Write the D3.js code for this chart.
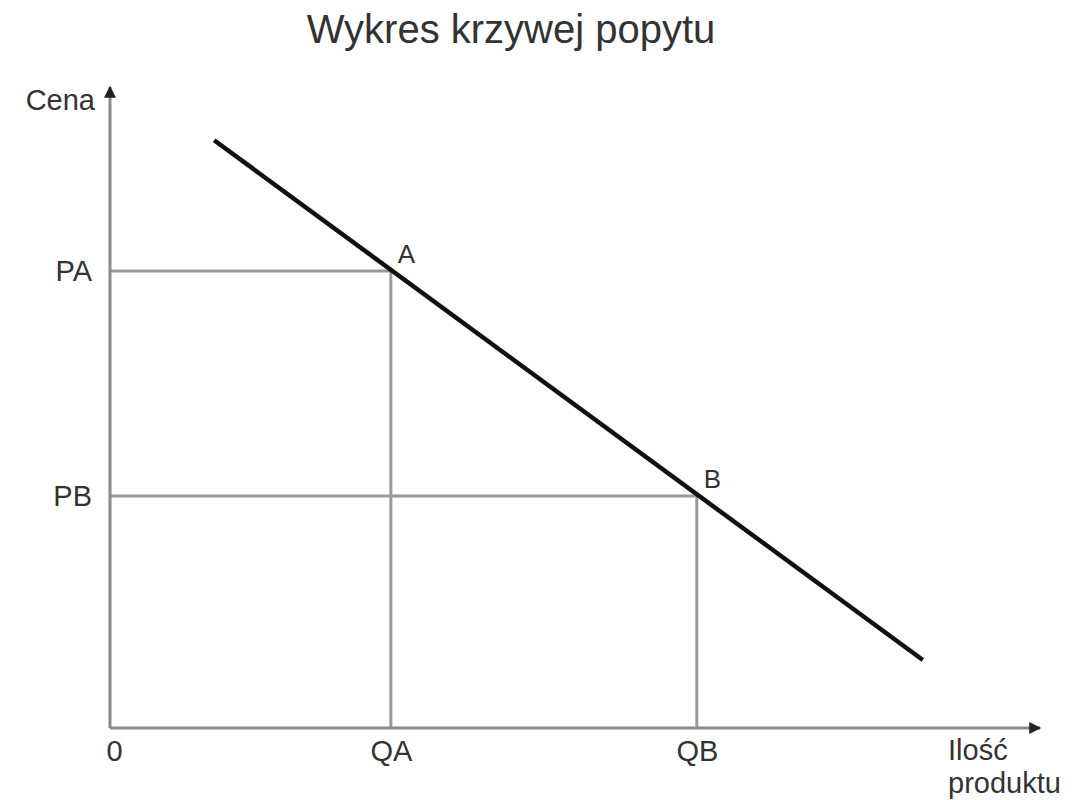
<!DOCTYPE html>
<html>
<head>
  <meta charset="UTF-8">
  <style>
    body {
      margin: 0;
      padding: 0;
      background: #ffffff;
      font-family: "Liberation Sans", Arial, sans-serif;
    }
    svg {
      display: block;
    }
    .axis path, .axis line {
      stroke: none;
    }
    .axis text {
      font-family: "Liberation Sans", Arial, sans-serif;
      fill: #333;
    }
  </style>
</head>
<body>
<svg id="chart"></svg>
<script src="https://d3js.org/d3.v7.min.js"></script>
<script>
// dane (jednostki umowne 0-100)
const demandCurve = [
  { q: 11.2, p: 91.7 },
  { q: 87.4, p: 10.6 }
];
const pointNames = ["A", "B"];
const pointQ = [30.2, 63.1];
const pointP = [71.3, 36.2];
const xTickValues = [0, 30.2, 63.1];
const xTickLabels = ["0", "QA", "QB"];
const yTickValues = [71.3, 36.2];
const yTickLabels = ["PA", "PB"];
const title = "Wykres krzywej popytu";
const yTitle = "Cena";
const xTitle = ["Ilość", "produktu"];

let width = 1076, height = 800;
let svg = d3.select("#chart").attr("width", width).attr("height", height);

let x = d3.scaleLinear().domain([0, 100]).range([110, 1040]);
let y = d3.scaleLinear().domain([0, 100]).range([728, 87]);

let points = pointNames.map((n, i) => ({ name: n, q: pointQ[i], p: pointP[i] }));

// strzałki osi
let defs = svg.append("defs");
defs.append("marker")
    .attr("id", "arrow")
    .attr("viewBox", "0 0 10 10")
    .attr("refX", 9)
    .attr("refY", 5)
    .attr("markerWidth", 5)
    .attr("markerHeight", 4)
    .attr("markerUnits", "strokeWidth")
    .attr("orient", "auto")
    .append("path")
    .attr("d", "M0,0 L10,5 L0,10 Z")
    .attr("fill", "#222");

// tytuł
svg.append("text")
    .attr("x", 511)
    .attr("y", 43)
    .attr("text-anchor", "middle")
    .attr("font-size", 40)
    .attr("fill", "#333")
    .text(title);

// linie pomocnicze do A i B
let guides = svg.append("g").attr("stroke", "#999").attr("stroke-width", 3);
guides.selectAll("line.h")
    .data(points)
    .enter()
    .append("line")
    .attr("class", "h")
    .attr("x1", x(0)).attr("x2", d => x(d.q))
    .attr("y1", d => y(d.p)).attr("y2", d => y(d.p));
guides.selectAll("line.v")
    .data(points)
    .enter()
    .append("line")
    .attr("class", "v")
    .attr("x1", d => x(d.q)).attr("x2", d => x(d.q))
    .attr("y1", d => y(d.p)).attr("y2", y(0));

// osie
svg.append("line")
    .attr("x1", x(0)).attr("y1", y(0))
    .attr("x2", x(100)).attr("y2", y(0))
    .attr("stroke", "#8a8a8a").attr("stroke-width", 3)
    .attr("marker-end", "url(#arrow)");
svg.append("line")
    .attr("x1", x(0)).attr("y1", y(0))
    .attr("x2", x(0)).attr("y2", y(100))
    .attr("stroke", "#8a8a8a").attr("stroke-width", 3)
    .attr("marker-end", "url(#arrow)");

// etykiety osi
let xAxis = d3.axisBottom(x)
    .tickValues(xTickValues)
    .tickFormat((d, i) => xTickLabels[i])
    .tickSize(0)
    .tickPadding(12);
svg.append("g")
    .attr("class", "axis")
    .attr("transform", `translate(0,${y(0)})`)
    .call(xAxis)
    .selectAll("text")
    .attr("font-size", 29)
    .attr("dx", (d, i) => i === 0 ? 4 : 0);

let yAxis = d3.axisLeft(y)
    .tickValues(yTickValues)
    .tickFormat((d, i) => yTickLabels[i])
    .tickSize(0)
    .tickPadding(18);
svg.append("g")
    .attr("class", "axis")
    .attr("transform", `translate(${x(0)},0)`)
    .call(yAxis)
    .selectAll("text")
    .attr("font-size", 29)
    .attr("dy", "0.33em");

// tytuły osi
svg.append("text")
    .attr("x", 95)
    .attr("y", 110)
    .attr("text-anchor", "end")
    .attr("font-size", 29)
    .attr("fill", "#333")
    .text(yTitle);

svg.append("text")
    .attr("x", 948)
    .attr("y", 760)
    .attr("font-size", 29)
    .attr("fill", "#333")
    .selectAll("tspan")
    .data(xTitle)
    .enter()
    .append("tspan")
    .attr("x", 948)
    .attr("dy", (d, i) => i === 0 ? 0 : 33)
    .text(d => d);

// krzywa popytu
let line = d3.line().x(d => x(d.q)).y(d => y(d.p));
svg.append("path")
    .datum(demandCurve)
    .attr("d", line)
    .attr("fill", "none")
    .attr("stroke", "#111")
    .attr("stroke-width", 4.5);

// etykiety punktów
svg.selectAll("text.pt")
    .data(points)
    .enter()
    .append("text")
    .attr("class", "pt")
    .attr("x", d => x(d.q) + 7)
    .attr("y", d => y(d.p) - 8)
    .attr("font-size", 26)
    .attr("fill", "#333")
    .text(d => d.name);
</script>
</body>
</html>
